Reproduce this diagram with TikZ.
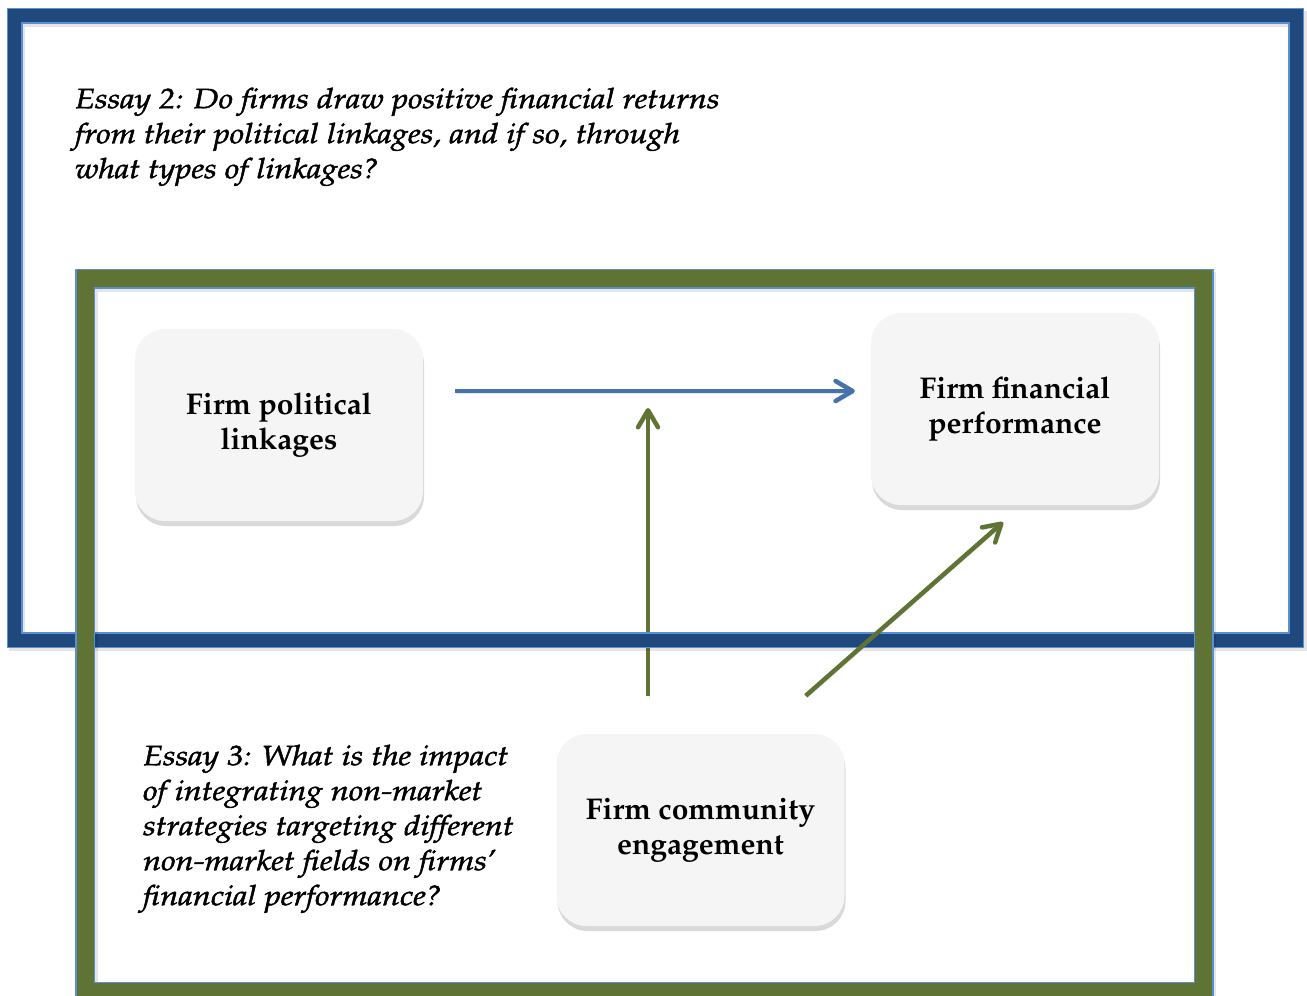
\documentclass[tikz,border=0pt]{standalone}
\usepackage[T1]{fontenc}
\usepackage{mathpazo}
\usetikzlibrary{positioning,calc,shadows,arrows.meta}

\definecolor{frameblue}{HTML}{1F497D}
\definecolor{edgeblue}{HTML}{5B8FD0}
\definecolor{framegreen}{HTML}{5F7335}
\definecolor{arrowblue}{HTML}{4573A8}

% wide italic question text, a little heavier
\newcommand{\question}[1]{\special{pdf:literal direct 2 Tr 0.45 w}%
  \scalebox{1.16}[1]{\begin{tabular}{@{}l@{}}#1\end{tabular}}%
  \special{pdf:literal direct 0 Tr}}

\begin{document}
\begin{tikzpicture}[x=1pt,y=-1pt,
  factor/.style={rectangle,rounded corners=30pt,fill=black!4,minimum width=288pt,minimum height=192pt,
    align=center,font=\bfseries\fontsize{30}{35}\selectfont,
    drop shadow={shadow xshift=1pt,shadow yshift=-5pt,opacity=0.25,fill=black!60}},
  essay/.style={anchor=north west,inner sep=0pt,font=\itshape\fontsize{28}{35}\selectfont},
  essayframe/.style={line width=1.5pt,draw=edgeblue,double distance=13pt},
  effect/.style={line width=4.5pt,-{Straight Barb[length=17pt,width=20pt,round]},
    preaction={draw=black,opacity=0.1,transform canvas={shift={(1,2.5)}}}}]
\clip (0,0) rectangle (1307,996);

% the three constructs
\node[factor] (pol) at (279,425) {Firm political\\linkages};
\node[factor] (fin) at (1015,409) {Firm financial\\performance};
\node[factor] (comm) at (700.5,830) {Firm community\\engagement};

% research questions
\node[essay] (essaytwo) at (75,83.5) {\question{Essay 2: Do firms draw positive financial returns\\from their political linkages, and if so, through\\what types of linkages?}};
\node[essay] (essaythree) at (143,740.5) {\question{Essay 3: What is the impact\\of integrating non-market\\strategies targeting different\\non-market fields on firms'\\financial performance?}};

% moderation, goes under the blue frame
\coordinate (mod) at (648,408);
\draw[effect,framegreen] ($(comm.north -| mod)+(0,-38)$) -- (mod);

% essay 2 frame
\draw[line width=16pt,black,opacity=0.1] (17,19) rectangle (1299,643);
\draw[essayframe,double=frameblue] (14.5,15.5) rectangle (1296,640);
% essay 3 frame
\draw[line width=20pt,black,opacity=0.1] (87.5,282) rectangle (1206,995);
\draw[essayframe,double=framegreen,double distance=17pt] (85,278.5) rectangle (1203.5,991.5);

% effects
\draw[effect,arrowblue] ($(pol.east)+(32,-34)$) -- ($(fin.west)+(-16,-18)$);
\draw[effect,framegreen] ($(comm.north east)+(-39,-38)$) -- ($(fin.south)+(-12,17)$);
\end{tikzpicture}
\end{document}
